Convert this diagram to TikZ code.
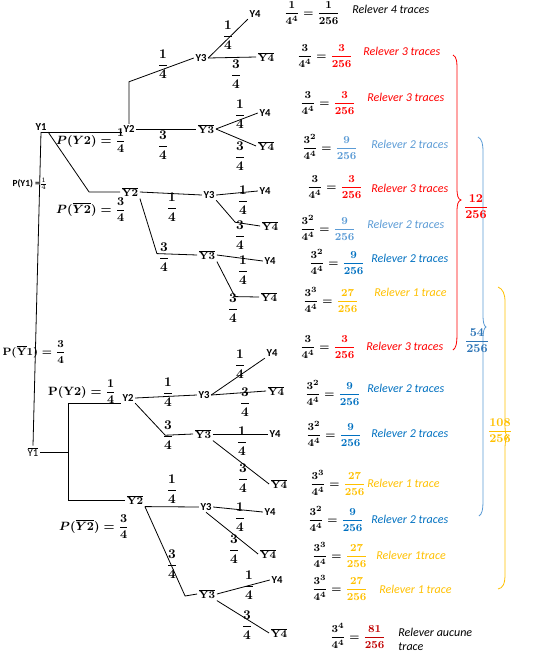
\documentclass[tikz,border=0pt]{standalone}
\usepackage[no-math]{fontspec}
\setmainfont{Carlito}
\usepackage{amsmath}
\definecolor{lblue}{RGB}{91,155,213}
\definecolor{dblue}{RGB}{0,112,192}
\definecolor{mblue}{RGB}{46,117,182}
\definecolor{gold}{RGB}{255,192,0}
\definecolor{dred}{RGB}{192,0,0}
\newcommand{\fq}[2]{$\dfrac{#1}{#2}$}
\newcommand{\ybar}[1]{$\overline{\mathbf{#1}}$}
\newcommand{\rslt}[3]{$\dfrac{#1}{4^4}={\color{#2}\dfrac{#3}{256}}$}
\begin{document}
\begin{tikzpicture}[x=0.75pt,y=-0.75pt,line width=0.6pt,
  yl/.style={inner sep=1pt,font=\fontsize{8}{9}\selectfont\bfseries},
  yb/.style={inner sep=1pt,font=\fontsize{8}{9}\selectfont},
  pr/.style={inner sep=0pt,font=\boldmath},
  pq/.style={inner sep=0pt,font=\fontsize{9}{10}\selectfont\boldmath},
  res/.style={inner sep=0pt,font=\fontsize{8.5}{10}\selectfont\boldmath},
  txt/.style={inner sep=0pt,anchor=west,font=\fontsize{9}{10}\selectfont\itshape}]
\useasboundingbox (0,0) rectangle (539,657);

% first tree
\node[yl] (y1) at (41,127) {Y1};
\node[yb] (y1b) at (33,452) {$\overline{\mbox{Y1}}$};
\node[yl] (y2a) at (129,129) {Y2};
\node[yl] (y2b) at (130,192) {\ybar{Y2}};
\node[yl] (y3a) at (201,58) {Y3};
\node[yl] (y3b) at (206,129) {\ybar{Y3}};
\node[yl] (y3c) at (209,195) {Y3};
\node[yl] (y3d) at (207,255) {\ybar{Y3}};
\node[yl] (y4a) at (255,14) {Y4};
\node[yl] (y4b) at (266,57) {\ybar{Y4}};
\node[yl] (y4c) at (265,113) {Y4};
\node[yl] (y4d) at (266,146) {\ybar{Y4}};
\node[yl] (y4e) at (265,191) {Y4};
\node[yl] (y4f) at (270,226) {\ybar{Y4}};
\node[yl] (y4g) at (270,261) {Y4};
\node[yl] (y4h) at (269,297) {\ybar{Y4}};

\draw (y1.south) -- (y1.south -| y2a.west);
\draw (y2b.west) -- ++(-31,0) -- (y1.south east);
\draw (y1.south) -- (y1b.north);
\draw (y2a.north) -- ++(0,-42) -- (y3a.west);
\draw (y2a.east) -- (y3b.west);
\draw (y2b.east) -- (y3c.west);
\draw (y2b.south east) -- ++(17,55) -- (y3d.west);
\draw (y3a.east) -- (y4a.south west);
\draw (y3a.east) -- (y4b.west);
\draw (y3b.east) -- (y4c.west);
\draw (y3b.east) -- (y4d.west);
\draw (y3c.east) -- (y4e.west);
\draw (y3c.south east) -- ++(19,22) -- (y4f.west);
\draw (y3d.east) -- (y4g.west);
\draw (y3d.south east) -- ++(18,35) -- (y4h.west);

\node[inner sep=0pt,font=\fontsize{7}{8}\selectfont\bfseries] (p1) at (30,184) {P(Y1) =$\frac{1}{4}$};
\node[pq] (p2a) at (91,141) {$P(Y2)=\dfrac{1}{4}$};
\node[pq] (p2b) at (91,210) {$P(\overline{Y2})=\dfrac{3}{4}$};
\node[pr] (q3a) at (163,64) {\fq{1}{4}};
\node[pr] (q3b) at (163,145) {\fq{3}{4}};
\node[pr] (q3c) at (172,207) {\fq{1}{4}};
\node[pr] (q3d) at (164,257) {\fq{3}{4}};
\node[pr] (q4a) at (228,35) {\fq{1}{4}};
\node[pr] (q4b) at (236,74) {\fq{3}{4}};
\node[pr] (q4c) at (240,114) {\fq{1}{4}};
\node[pr] (q4d) at (240,156) {\fq{3}{4}};
\node[pr] (q4e) at (243,200) {\fq{1}{4}};
\node[pr] (q4f) at (240,235) {\fq{3}{4}};
\node[pr] (q4g) at (243,270) {\fq{1}{4}};
\node[pr] (q4h) at (233,308) {\fq{3}{4}};

% second tree
\node[inner sep=0pt,font=\fontsize{8.5}{10}\selectfont\boldmath] (p1b) at (34,352) {$\mathbf{P(\overline{Y}1)}=\dfrac{3}{4}$};
\node[yl] (y2c) at (128,398) {Y2};
\node[yl] (y2d) at (135,500) {\ybar{Y2}};
\node[yl] (y3e) at (204,395) {Y3};
\node[yl] (y3f) at (203,434) {\ybar{Y3}};
\node[yl] (y3g) at (206,507) {Y3};
\node[yl] (y3h) at (207,594) {\ybar{Y3}};
\node[yl] (y4i) at (272,353) {Y4};
\node[yl] (y4j) at (276,391) {\ybar{Y4}};
\node[yl] (y4k) at (275,434) {Y4};
\node[yl] (y4l) at (279,484) {\ybar{Y4}};
\node[yl] (y4m) at (270,512) {Y4};
\node[yl] (y4n) at (268,554) {\ybar{Y4}};
\node[yl] (y4o) at (277,580) {Y4};
\node[yl] (y4p) at (279,633) {\ybar{Y4}};

\draw (y1b.east) -- ++(28,0) coordinate (fork);
\draw (y2c.south west) -| (fork) |- (y2d.west);
\draw (y2c.east) -- (y3e.west);
\draw (y2c.south east) -- ++(30,32) -- (y3f.west);
\draw (y2d.south east) -- (y3g.west);
\draw (y3h.west) -- ++(-12,2) -- (y2d.south east);
\draw (y3e.east) -- (y4i.south west);
\draw (y3e.east) -- (y4j.west);
\draw (y3f.east) -- (y4k.west);
\draw (y3f.south east) -- (y4l.west);
\draw (y3g.east) -- (y4m.west);
\draw (y3g.south) -- (y4n.west);
\draw (y3h.east) -- (y4o.west);
\draw (y3h.south east) -- (y4p.west);

\node[pq] (p2c) at (82,392) {$\mathbf{P(Y2)}=\dfrac{1}{4}$};
\node[pq] (p2d) at (94,527) {$P(\overline{Y2})=\dfrac{3}{4}$};
\node[pr] (q3e) at (168,392) {\fq{1}{4}};
\node[pr] (q3f) at (168,435) {\fq{3}{4}};
\node[pr] (q3g) at (172,489) {\fq{1}{4}};
\node[pr] (q3h) at (172,564) {\fq{3}{4}};
\node[pr] (q4i) at (240,364) {\fq{1}{4}};
\node[pr] (q4j) at (245,402) {\fq{3}{4}};
\node[pr] (q4k) at (242,441) {\fq{1}{4}};
\node[pr] (q4l) at (243,478) {\fq{3}{4}};
\node[pr] (q4m) at (240,517) {\fq{1}{4}};
\node[pr] (q4n) at (234,549) {\fq{3}{4}};
\node[pr] (q4o) at (249,585) {\fq{1}{4}};
\node[pr] (q4p) at (247,625) {\fq{3}{4}};

% results
\node[res] (r1) at (312,13) {\rslt{1}{black}{1}};
\node[res] (r2) at (325,56) {\rslt{3}{red}{3}};
\node[res] (r3) at (328,103) {\rslt{3}{red}{3}};
\node[res] (r4) at (330,147) {\rslt{3^2}{lblue}{9}};
\node[res] (r5) at (335,187) {\rslt{3}{red}{3}};
\node[res] (r6) at (328,228) {\rslt{3^2}{lblue}{9}};
\node[res] (r7) at (337,262) {\rslt{3^2}{dblue}{9}};
\node[res] (r8) at (331,300) {\rslt{3^3}{gold}{27}};
\node[res] (r9) at (328,347) {\rslt{3}{red}{3}};
\node[res] (r10) at (333,393) {\rslt{3^2}{dblue}{9}};
\node[res] (r11) at (334,434) {\rslt{3^2}{dblue}{9}};
\node[res] (r12) at (338,483) {\rslt{3^3}{gold}{27}};
\node[res] (r13) at (336,519) {\rslt{3^2}{dblue}{9}};
\node[res] (r14) at (340,555) {\rslt{3^3}{gold}{27}};
\node[res] (r15) at (340,588) {\rslt{3^3}{gold}{27}};
\node[res] (r16) at (358,636) {\rslt{3^4}{dred}{81}};

\node[txt] (t1) at (352,9) {Relever 4 traces};
\node[txt,red] (t2) at (363,51) {Relever 3 traces};
\node[txt,red] (t3) at (367,97) {Relever 3 traces};
\node[txt,lblue] (t4) at (371,144) {Relever 2 traces};
\node[txt,red] (t5) at (371,188) {Relever 3 traces};
\node[txt,lblue] (t6) at (367,224) {Relever 2 traces};
\node[txt,dblue] (t7) at (371,258) {Relever 2 traces};
\node[txt,gold] (t8) at (374,292) {Relever 1 trace};
\node[txt,red] (t9) at (366,346) {Relever 3 traces};
\node[txt,dblue] (t10) at (367,388) {Relever 2 traces};
\node[txt,dblue] (t11) at (371,433) {Relever 2 traces};
\node[txt,gold] (t12) at (367,483) {Relever 1 trace};
\node[txt,dblue] (t13) at (371,519) {Relever 2 traces};
\node[txt,gold] (t14) at (376,555) {Relever 1trace};
\node[txt,gold] (t15) at (379,589) {Relever 1 trace};
\node[txt,anchor=north west,align=left] (t16) at (398,628) {Relever aucune\\trace};

% braces
\draw[red] (453,55) .. controls (457,57) and (457,62) .. (457,72) -- (457,188)
  .. controls (457,196) and (458,199) .. (461,200) .. controls (458,201) and (457,204) .. (457,212)
  -- (457,333) .. controls (457,344) and (456,348) .. (453,350);
\draw[lblue] (478,137) .. controls (482,139) and (483,144) .. (483,152) -- (483,316)
  .. controls (483,322) and (484,326) .. (486,327) .. controls (484,328) and (483,332) .. (483,338)
  -- (483,500) .. controls (483,510) and (482,514) .. (479,516);
\draw[gold] (498,287) .. controls (503,289) and (505,294) .. (505,302) -- (505,426)
  .. controls (505,432) and (506,436) .. (508,437) .. controls (506,438) and (505,442) .. (505,448)
  -- (505,574) .. controls (505,584) and (503,588) .. (498,589);
\node[pq,red] (s1) at (476,207) {$\dfrac{12}{256}$};
\node[pq,mblue] (s2) at (477,341) {$\dfrac{54}{256}$};
\node[pq,gold] (s3) at (500,431) {$\dfrac{108}{256}$};
\end{tikzpicture}
\end{document}
